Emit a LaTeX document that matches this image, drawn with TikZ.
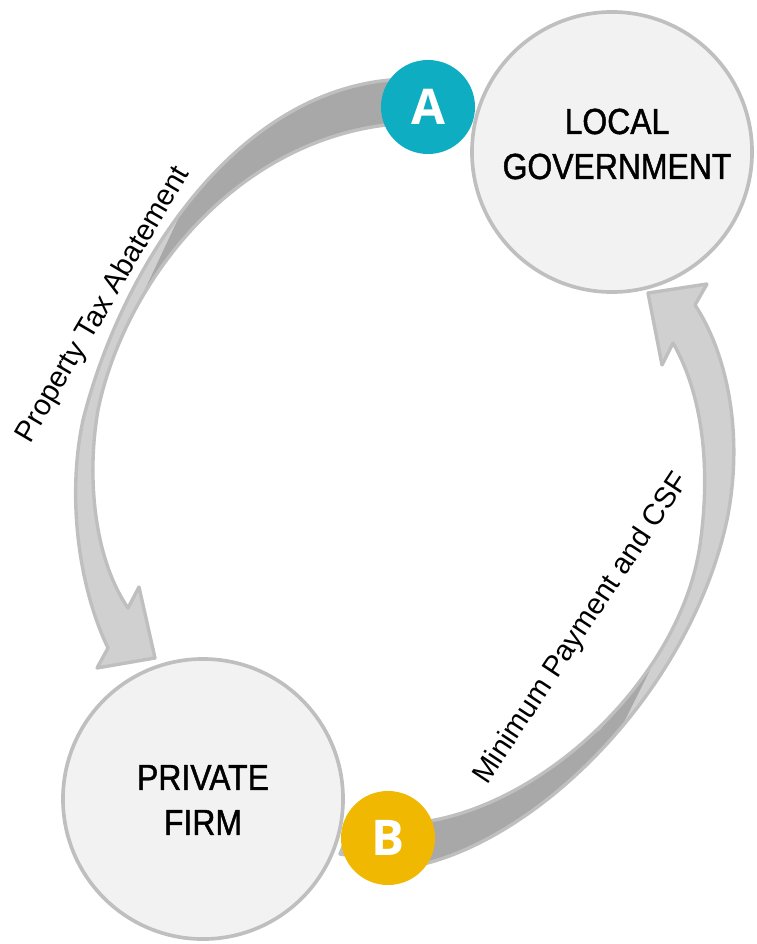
\documentclass[tikz,border=0pt]{standalone}
\usepackage{fontspec}
\setmainfont{Liberation Sans}
\newfontfamily\narrowfont[FakeStretch=0.88, FakeBold=1.2]{Liberation Sans}
\newfontfamily\badgefont{Open Sans}
\usepackage{tikz}
\usetikzlibrary{positioning}

\definecolor{circlefill}{RGB}{242,242,242}
\definecolor{circleline}{RGB}{191,191,191}
\definecolor{ribbonfill}{RGB}{208,208,208}
\definecolor{ribbondark}{RGB}{168,168,168}
\definecolor{tealA}{RGB}{15,173,193}
\definecolor{goldB}{RGB}{240,184,0}

% outlines of the two ribbon arrows
\newcommand\abatementribbon{(410,79) .. controls (240,80) and (122,265) .. (83,420)
	.. controls (66,500) and (80,590) .. (108,648)
	-- (97,668) -- (155,658) -- (139,587) -- (128,608)
	.. controls (95,560) and (86,480) .. (98,410)
	.. controls (125,280) and (240,130) .. (410,123) -- cycle}
\newcommand\paymentribbon{(340,854) -- (415,866) .. controls (540,840) and (690,690) .. (727,520)
	.. controls (745,430) and (725,350) .. (695,305)
	-- (707,284) -- (648,293) -- (662,365) -- (673,343)
	.. controls (700,390) and (712,460) .. (700,545)
	.. controls (680,680) and (540,810) .. (415,823) -- (345,842) -- cycle}

\begin{document}
\begin{tikzpicture}[x=0.025cm, y=-0.025cm,
	party/.style={circle, draw=circleline, fill=circlefill, line width=2.6pt, minimum size=7cm, inner sep=0pt},
	partytext/.style={align=center, font=\narrowfont\fontsize{25.8}{32}\selectfont},
	badge/.style={circle, minimum size=2.35cm, inner sep=0pt, text=white, font=\badgefont\bfseries\fontsize{35}{40}\selectfont},
	ribbon/.style={draw=circleline, line width=2.4pt, line join=round},
	flowlabel/.style={anchor=base, font=\fontsize{20.8}{26}\selectfont}]
	\useasboundingbox (0,0) rectangle (756,944);
	
	\node[party] (gov) at (612,152) {};
	\node[partytext] (govlabel) at (617,144) {LOCAL\\GOVERNMENT};
	\node[party] (firm) at (203,799) {};
	\node[partytext] (firmlabel) at (203,800) {PRIVATE\\FIRM};
	
	% abatement ribbon, from A down to the firm
	\fill[ribbonfill] \abatementribbon;
	\begin{scope}
		\clip \abatementribbon;
		\fill[ribbondark] (420,40) -- (420,160) -- (300,160) -- (200,225) -- (140,300) -- (180,215) -- (240,100) -- (250,40) -- cycle;
	\end{scope}
	\draw[ribbon] \abatementribbon;
	
	% payment ribbon, from B up to the government
	\fill[ribbonfill] \paymentribbon;
	\begin{scope}
		\clip \paymentribbon;
		\fill[ribbondark] (330,900) -- (330,800) -- (520,785) -- (600,730) -- (650,670) -- (620,730) -- (560,800) -- (560,900) -- cycle;
	\end{scope}
	\draw[ribbon] \paymentribbon;
	
	\node[badge, fill=tealA] (A) at (428,107) {A};
	\node[badge, fill=goldB] (B) at (388,838) {B};
	
	\node[flowlabel, rotate=59.5] (abatement) at (110,309) {Property Tax Abatement};
	\node[flowlabel, rotate=56.5] (payment) at (588,633) {Minimum Payment and CSF};
\end{tikzpicture}
\end{document}
